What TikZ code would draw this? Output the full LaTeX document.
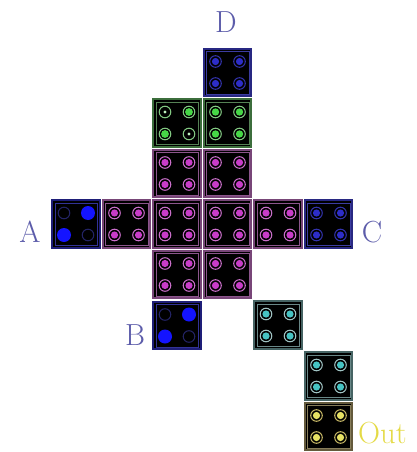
\documentclass[tikz,border=0pt]{standalone}
\usetikzlibrary{calc}
\definecolor{lbl}{RGB}{92,92,170}
\definecolor{outc}{RGB}{228,218,70}
\definecolor{pborder}{RGB}{120,70,120}
\definecolor{pinner}{RGB}{140,85,140}
\definecolor{pring}{RGB}{200,110,200}
\definecolor{pfill}{RGB}{200,60,200}
\definecolor{gborder}{RGB}{60,110,60}
\definecolor{ginner}{RGB}{85,130,85}
\definecolor{gring}{RGB}{130,200,130}
\definecolor{gfill}{RGB}{70,215,70}
\definecolor{gsmall}{RGB}{190,240,190}
\definecolor{bborder}{RGB}{40,40,130}
\definecolor{binner}{RGB}{60,60,160}
\definecolor{bring}{RGB}{50,50,170}
\definecolor{bfill}{RGB}{45,45,200}
\definecolor{abborder}{RGB}{30,30,120}
\definecolor{abinner}{RGB}{50,50,150}
\definecolor{abring}{RGB}{35,35,100}
\definecolor{abfill}{RGB}{20,20,255}
\definecolor{cborder}{RGB}{70,100,100}
\definecolor{cinner}{RGB}{105,135,135}
\definecolor{cring}{RGB}{160,195,195}
\definecolor{cfill}{RGB}{70,195,195}
\definecolor{yborder}{RGB}{100,90,60}
\definecolor{yinner}{RGB}{135,125,90}
\definecolor{yring}{RGB}{195,180,100}
\definecolor{yfill}{RGB}{230,225,100}
\tikzset{
  cellbox/.style={minimum size=47.5pt, inner sep=0pt, fill=black, line width=1.8pt},
  innerbox/.style={minimum size=42.5pt, inner sep=0pt, line width=0.5pt},
  lbltext/.style={text=lbl, font=\fontsize{30.5}{32}\selectfont, inner sep=0pt},
}
\newcommand\mkcell[5]{%
  \node[cellbox, draw=#4] (#1) at (#2,#3) {};
  \node[innerbox, draw=#5] (#1in) at (#2,#3) {};
}
\newcommand\rd[5]{%
  \draw[#3, line width=1pt] (#1,#2) circle (5.8);
  \fill[#4] (#1,#2) circle (#5);
}
\newcommand\quadd[5]{%
  \rd{#1-12}{#2-11}{#3}{#4}{#5}\rd{#1+12}{#2-11}{#3}{#4}{#5}%
  \rd{#1-12}{#2+11}{#3}{#4}{#5}\rd{#1+12}{#2+11}{#3}{#4}{#5}%
}
\newcommand\abdots[2]{%
  \draw[abring, line width=1pt] (#1-12,#2-11) circle (5.8);
  \fill[abfill] (#1+12,#2-11) circle (7);
  \fill[abfill] (#1-12,#2+11) circle (7);
  \draw[abring, line width=1pt] (#1+12,#2+11) circle (5.8);
}
\begin{document}
\begin{tikzpicture}[x=1pt,y=-1pt]
\useasboundingbox (0,0) rectangle (416,452);
% D
\mkcell{D}{227.5}{72.5}{bborder}{binner}
\quadd{227.5}{72.5}{bring}{bfill}{3.6}
% green
\mkcell{G1}{177}{123}{gborder}{ginner}
\rd{165}{112}{gring}{gsmall}{1.6}
\rd{189}{112}{gring}{gfill}{3.9}
\rd{165}{134}{gring}{gfill}{3.9}
\rd{189}{134}{gring}{gsmall}{1.6}
\mkcell{G2}{227.5}{123}{gborder}{ginner}
\quadd{227.5}{123}{gring}{gfill}{3.7}
% purple upper
\mkcell{P1}{177}{173.5}{pborder}{pinner}
\quadd{177}{173.5}{pring}{pfill}{3.6}
\mkcell{P2}{227.5}{173.5}{pborder}{pinner}
\quadd{227.5}{173.5}{pring}{pfill}{3.6}
% middle row
\mkcell{A}{76}{224}{abborder}{abinner}
\abdots{76}{224}
\mkcell{P3}{126.5}{224}{pborder}{pinner}
\quadd{126.5}{224}{pring}{pfill}{3.6}
\mkcell{P4}{177}{224}{pborder}{pinner}
\quadd{177}{224}{pring}{pfill}{3.6}
\mkcell{P5}{227.5}{224}{pborder}{pinner}
\quadd{227.5}{224}{pring}{pfill}{3.6}
\mkcell{P6}{278}{224}{pborder}{pinner}
\quadd{278}{224}{pring}{pfill}{3.6}
\mkcell{C}{328.5}{224}{bborder}{binner}
\quadd{328.5}{224}{bring}{bfill}{3.6}
% purple lower
\mkcell{P7}{177}{274.5}{pborder}{pinner}
\quadd{177}{274.5}{pring}{pfill}{3.6}
\mkcell{P8}{227.5}{274.5}{pborder}{pinner}
\quadd{227.5}{274.5}{pring}{pfill}{3.6}
% B
\mkcell{B}{177}{325.5}{abborder}{abinner}
\abdots{177}{325.5}
% cyan
\mkcell{T1}{278}{325}{cborder}{cinner}
\quadd{278}{325}{cring}{cfill}{3.6}
\mkcell{T2}{328.5}{376}{cborder}{cinner}
\quadd{328.5}{376}{cring}{cfill}{3.6}
% yellow
\mkcell{Y}{328.5}{426.5}{yborder}{yinner}
\quadd{328.5}{426.5}{yring}{yfill}{3.6}
% labels
\node[lbltext] (lD) at (226,22) {D};
\node[lbltext] (lA) at (30,232) {A};
\node[lbltext] (lC) at (372,232) {C};
\node[lbltext] (lB) at (135,335) {B};
\node[lbltext, text=outc, anchor=west] (lO) at (358,433) {Out};
\end{tikzpicture}
\end{document}
